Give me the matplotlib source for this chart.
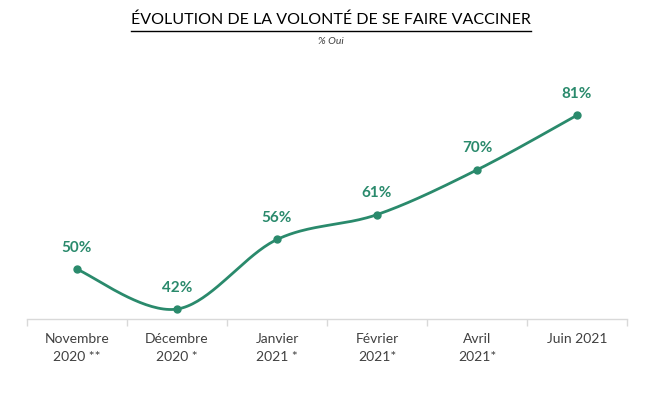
import numpy as np
import matplotlib
matplotlib.use("Agg")
import matplotlib.pyplot as plt
from matplotlib.lines import Line2D

categories = ["Novembre\n2020 **", "Décembre\n2020 *", "Janvier\n2021 *",
              "Février\n2021*", "Avril\n2021*", "Juin 2021"]
values = [50, 42, 56, 61, 70, 81]
labels = ["50%", "42%", "56%", "61%", "70%", "81%"]

GREEN = "#2a8a6c"
FONT = "Lato"

fig = plt.figure(figsize=(6.62, 3.98), dpi=100)
ax = fig.add_axes([27/662, 1-319/398, 600/662, (319-70.5)/398])

x = np.arange(len(values), dtype=float)
y = np.array(values, dtype=float)

# Catmull-Rom style smoothing (like Excel smoothed line)
def smooth(x, y, n=40):
    px = np.concatenate([[x[0]], x, [x[-1]]])
    py = np.concatenate([[y[0]], y, [y[-1]]])
    xs, ys = [], []
    for i in range(1, len(px)-2):
        p0 = np.array([px[i], py[i]]); p3 = np.array([px[i+1], py[i+1]])
        c1 = p0 + (np.array([px[i+1], py[i+1]]) - np.array([px[i-1], py[i-1]]))/6
        c2 = p3 - (np.array([px[i+2], py[i+2]]) - np.array([px[i], py[i]]))/6
        t = np.linspace(0, 1, n)[:, None]
        pts = (1-t)**3*p0 + 3*(1-t)**2*t*c1 + 3*(1-t)*t**2*c2 + t**3*p3
        xs.extend(pts[:, 0]); ys.extend(pts[:, 1])
    return np.array(xs), np.array(ys)

sx, sy = smooth(x, y)
ax.plot(sx, sy, color=GREEN, lw=2.0, solid_capstyle="round")
ax.plot(x, y, "o", color=GREEN, ms=5)

for xi, yi, lab in zip(x, y, labels):
    ax.annotate(lab, (xi, yi), xytext=(0, 15.5), textcoords="offset points",
                ha="center", va="center", color=GREEN, fontsize=11,
                fontweight="bold", family=FONT)

ax.set_xlim(-0.5, len(values)-0.5)
ax.set_ylim(40, 90)
for s in ["top", "right", "left"]:
    ax.spines[s].set_visible(False)
ax.spines["bottom"].set_color("#d9d9d9")
ax.spines["bottom"].set_linewidth(1.0)
ax.set_yticks([])
ax.set_xticks(x)
ax.set_xticklabels(categories, fontsize=10, color="#404040", family=FONT,
                   linespacing=1.6)
ax.tick_params(axis="x", which="major", length=0, pad=10)
ax.set_xticks(np.arange(-0.5, len(values), 1.0), minor=True)
ax.tick_params(axis="x", which="minor", length=5, color="#d9d9d9", width=1.0)

t = fig.text(0.5, 1-20/398, "ÉVOLUTION DE LA VOLONTÉ DE SE FAIRE VACCINER",
             ha="center", va="center", fontsize=11.5, family=FONT, color="black")
fig.text(0.5, 1-41/398, "% Oui", ha="center", va="center", fontsize=7.5,
         family=FONT, style="italic", color="#404040")

fig.canvas.draw()
bb = t.get_window_extent().transformed(fig.transFigure.inverted())
uy = 1 - 30.5/398
fig.add_artist(Line2D([bb.x0, bb.x1], [uy, uy], transform=fig.transFigure,
                      color="black", lw=1.0))

fig.savefig("out.png", dpi=100)
